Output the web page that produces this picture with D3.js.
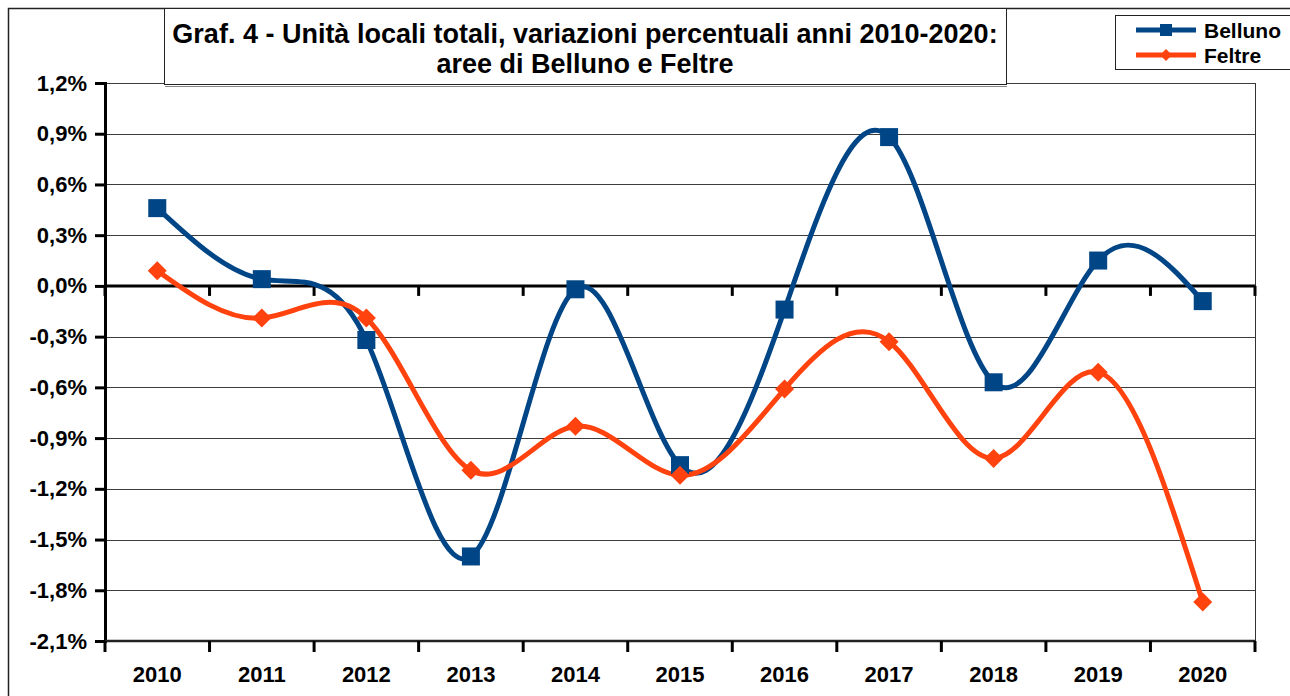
<!DOCTYPE html>
<html>
<head>
<meta charset="utf-8">
<script src="https://cdn.jsdelivr.net/npm/d3@7"></script>
<style>
  body { margin: 0; background: #fff; }
  svg { display: block; font-family: "Liberation Sans", Arial, sans-serif; font-weight: bold; }
</style>
</head>
<body>
<svg id="chart" width="1290" height="696"></svg>
<script>
// data (percent)
var years = ["2010","2011","2012","2013","2014","2015","2016","2017","2018","2019","2020"];
var belluno = [0.46, 0.04, -0.32, -1.60, -0.02, -1.06, -0.14, 0.88, -0.57, 0.15, -0.09];
var feltre  = [0.09, -0.19, -0.19, -1.09, -0.83, -1.12, -0.61, -0.33, -1.02, -0.51, -1.87];
var yTicks = [1.2, 0.9, 0.6, 0.3, 0, -0.3, -0.6, -0.9, -1.2, -1.5, -1.8, -2.1];
var titleLines = ["Graf. 4 - Unità locali totali, variazioni percentuali anni 2010-2020:", "aree di Belluno e Feltre"];
var seriesNames = ["Belluno", "Feltre"];
var colors = ["#004586", "#ff420e"];

var svg = d3.select("#chart");
var pLeft = 105, pRight = 1255, pTop = 83, pBottom = 641;

var x = d3.scaleBand().domain(years).range([pLeft, pRight]);
var y = d3.scaleLinear().domain([-2.1, 1.2]).range([pBottom, pTop]);

// outer frame
svg.append("rect").attr("x", 8.5).attr("y", 8.5).attr("width", 1300).attr("height", 700)
  .attr("fill", "none").attr("stroke", "#222").attr("stroke-width", 1.5);

// gridlines
svg.append("g").selectAll("line").data(yTicks).join("line")
  .attr("x1", pLeft).attr("x2", pRight)
  .attr("y1", function(d){ return Math.round(y(d)) + 0.5; })
  .attr("y2", function(d){ return Math.round(y(d)) + 0.5; })
  .attr("stroke", "#3c3c3c").attr("stroke-width", 1);

// right edge of plot
svg.append("line").attr("x1", pRight + 0.5).attr("x2", pRight + 0.5).attr("y1", pTop).attr("y2", pBottom)
  .attr("stroke", "#333").attr("stroke-width", 1);

// y axis
var yAxis = d3.axisLeft(y).tickValues(yTicks).tickSize(10).tickPadding(8)
  .tickFormat(function(d){ return d3.format(".1f")(d).replace("−", "-").replace(".", ",") + "%"; });
var gy = svg.append("g").attr("transform", "translate(" + pLeft + ",0)").call(yAxis);
gy.select(".domain").attr("stroke", "#000").attr("stroke-width", 3);
gy.selectAll(".tick line").attr("stroke", "#000").attr("stroke-width", 3);
gy.selectAll(".tick text").attr("font-size", 22).attr("fill", "#000").attr("font-family", "Liberation Sans, Arial, sans-serif");

// category boundary ticks
var bounds = years.map(function(d){ return x(d); }).concat([pRight]);

// bottom axis
svg.append("line").attr("x1", pLeft).attr("x2", pRight).attr("y1", pBottom).attr("y2", pBottom)
  .attr("stroke", "#222").attr("stroke-width", 2.5);
svg.append("g").selectAll("line").data(bounds).join("line")
  .attr("x1", function(d){ return d; }).attr("x2", function(d){ return d; })
  .attr("y1", pBottom).attr("y2", pBottom + 11)
  .attr("stroke", "#000").attr("stroke-width", 3);
svg.append("g").selectAll("text").data(years).join("text")
  .attr("x", function(d){ return x(d) + x.bandwidth() / 2; })
  .attr("y", 682)
  .attr("text-anchor", "middle").attr("font-size", 22).text(function(d){ return d; });

// zero line with ticks
svg.append("line").attr("x1", pLeft).attr("x2", pRight).attr("y1", y(0)).attr("y2", y(0))
  .attr("stroke", "#000").attr("stroke-width", 3);
svg.append("g").selectAll("line").data(bounds).join("line")
  .attr("x1", function(d){ return d; }).attr("x2", function(d){ return d; })
  .attr("y1", y(0)).attr("y2", y(0) + 10)
  .attr("stroke", "#000").attr("stroke-width", 3);

// lines
var line = d3.line()
  .x(function(d, i){ return x(years[i]) + x.bandwidth() / 2; })
  .y(function(d){ return y(d); })
  .curve(d3.curveNatural);

[belluno, feltre].forEach(function(vals, k){
  svg.append("path").datum(vals).attr("d", line)
    .attr("fill", "none").attr("stroke", colors[k]).attr("stroke-width", 5);
});

// markers
svg.append("g").selectAll("rect").data(belluno).join("rect")
  .attr("x", function(d, i){ return x(years[i]) + x.bandwidth() / 2 - 9; })
  .attr("y", function(d){ return y(d) - 9; })
  .attr("width", 18).attr("height", 18).attr("fill", colors[0]);

var diamond = d3.symbol().type(d3.symbolDiamond2).size(230);
svg.append("g").selectAll("path").data(feltre).join("path")
  .attr("d", diamond)
  .attr("transform", function(d, i){ return "translate(" + (x(years[i]) + x.bandwidth() / 2) + "," + y(d) + ")"; })
  .attr("fill", colors[1]);

// title box
svg.append("rect").attr("x", 164.5).attr("y", 8.5).attr("width", 842).attr("height", 76)
  .attr("fill", "#fff").attr("stroke", "#222").attr("stroke-width", 1);
svg.append("line").attr("x1", 165).attr("x2", 1007).attr("y1", 86.5).attr("y2", 86.5)
  .attr("stroke", "#888").attr("stroke-width", 1);
svg.append("g").selectAll("text").data(titleLines).join("text")
  .attr("x", 585).attr("y", function(d, i){ return 43 + i * 30; })
  .attr("text-anchor", "middle").attr("font-size", 27).text(function(d){ return d; });

// legend
var lg = svg.append("g");
lg.append("rect").attr("x", 1115.5).attr("y", 15.5).attr("width", 200).attr("height", 54)
  .attr("fill", "#fff").attr("stroke", "#222").attr("stroke-width", 1);
seriesNames.forEach(function(name, k){
  var ly = 30 + k * 25;
  lg.append("line").attr("x1", 1136).attr("x2", 1196).attr("y1", ly).attr("y2", ly)
    .attr("stroke", colors[k]).attr("stroke-width", 5);
  if (k === 0) {
    lg.append("rect").attr("x", 1160).attr("y", ly - 6).attr("width", 12).attr("height", 12).attr("fill", colors[k]);
  } else {
    lg.append("path").attr("d", d3.symbol().type(d3.symbolDiamond2).size(90))
      .attr("transform", "translate(1166," + ly + ")").attr("fill", colors[k]);
  }
  lg.append("text").attr("x", 1204).attr("y", ly + 8).attr("font-size", 21).text(name);
});
</script>
</body>
</html>
